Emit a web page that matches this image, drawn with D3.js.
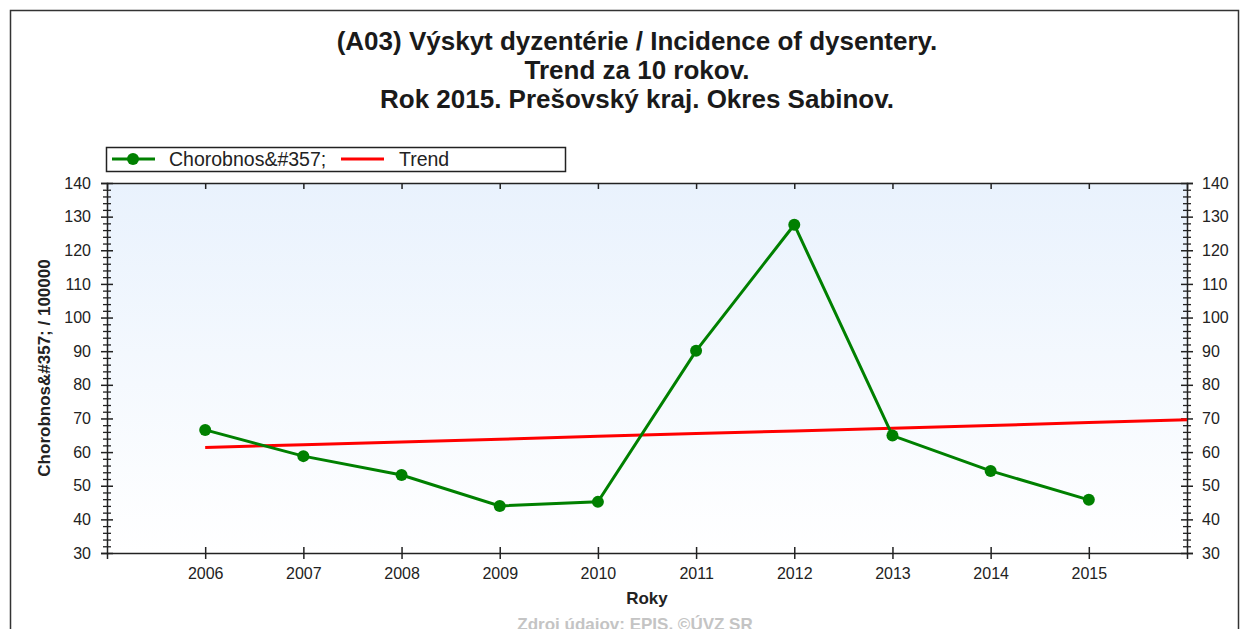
<!DOCTYPE html>
<html>
<head>
<meta charset="utf-8">
<script src="https://cdn.jsdelivr.net/npm/d3@7"></script>
<style>
  body { margin: 0; background: #fff; }
  text { font-family: "Liberation Sans", Arial, sans-serif; }
</style>
</head>
<body>
<script>
// chart values
var years = [2006, 2007, 2008, 2009, 2010, 2011, 2012, 2013, 2014, 2015];
var incidence = [66.6, 58.8, 53.2, 44.0, 45.2, 90.1, 127.6, 64.9, 54.4, 45.8];
var trendYears = [2006, 2007, 2008, 2009, 2010, 2011, 2012, 2013, 2014, 2015, 2016];
var trendValues = [61.4, 62.2, 63.0, 63.8, 64.7, 65.5, 66.3, 67.1, 67.9, 68.8, 69.6];
var yTicks = [30, 40, 50, 60, 70, 80, 90, 100, 110, 120, 130, 140];
var titleLines = [
    "(A03) Výskyt dyzentérie / Incidence of dysentery.",
    "Trend za 10 rokov.",
    "Rok 2015. Prešovský kraj. Okres Sabinov."
];
var seriesName = "Chorobnos&#357;";
var trendName = "Trend";
var yTitle = "Chorobnos&#357; / 100000";
var xTitle = "Roky";
var footer = "Zdroj údajov: EPIS, ©ÚVZ SR";

var width = 1249, height = 629;
var plot = { left: 107, top: 183, right: 1187, bottom: 553 };

var svg = d3.select("body").append("svg")
    .attr("width", width)
    .attr("height", height);

// outer frame
svg.append("rect")
    .attr("x", 10.5).attr("y", 10.5)
    .attr("width", 1228).attr("height", 640)
    .attr("fill", "none")
    .attr("stroke", "#333")
    .attr("stroke-width", 1.5);

// title
svg.append("g").selectAll("text")
    .data(titleLines)
    .enter().append("text")
    .attr("x", 637)
    .attr("y", function(d, i) { return 50 + i * 29; })
    .attr("text-anchor", "middle")
    .attr("font-size", "26px")
    .attr("font-weight", "bold")
    .attr("fill", "#1a1a1a")
    .text(function(d) { return d; });

var x = d3.scaleLinear().domain([2005, 2016]).range([plot.left, plot.right]);
var y = d3.scaleLinear().domain([30, 140]).range([plot.bottom, plot.top]);

// plot background gradient
var grad = svg.append("defs").append("linearGradient")
    .attr("id", "bg").attr("x1", 0).attr("y1", 0).attr("x2", 0).attr("y2", 1);
grad.append("stop").attr("offset", "0%").attr("stop-color", "#e9f2fd");
grad.append("stop").attr("offset", "100%").attr("stop-color", "#ffffff");

svg.append("rect")
    .attr("x", plot.left).attr("y", plot.top)
    .attr("width", plot.right - plot.left)
    .attr("height", plot.bottom - plot.top)
    .attr("fill", "url(#bg)");

// axes
function styleAxis(g) {
    g.select(".domain").attr("stroke", "#222").attr("stroke-width", 1.5);
    g.selectAll(".tick line").attr("stroke", "#222").attr("stroke-width", 1.5);
    g.selectAll(".tick text").attr("font-size", "16px").attr("fill", "#222")
        .attr("font-family", "Liberation Sans, Arial, sans-serif");
}

var minorTicks = d3.range(30, 141, 2).filter(function(v) { return v % 10 !== 0; });

// left axis
var leftMinor = svg.append("g")
    .attr("transform", "translate(" + plot.left + ",0)")
    .call(d3.axisLeft(y).tickValues(minorTicks).tickSize(4).tickFormat(""));
leftMinor.select(".domain").remove();
leftMinor.selectAll(".tick line").attr("x1", 4).attr("stroke", "#222").attr("stroke-width", 1.3);

var leftAxis = svg.append("g")
    .attr("transform", "translate(" + plot.left + ",0)")
    .call(d3.axisLeft(y).tickValues(yTicks).tickSizeOuter(0).tickSize(6).tickPadding(10));
styleAxis(leftAxis);
leftAxis.selectAll(".tick line").attr("x1", 6);

// right axis
var rightMinor = svg.append("g")
    .attr("transform", "translate(" + plot.right + ",0)")
    .call(d3.axisRight(y).tickValues(minorTicks).tickSize(4).tickFormat(""));
rightMinor.select(".domain").remove();
rightMinor.selectAll(".tick line").attr("x1", -4).attr("stroke", "#222").attr("stroke-width", 1.3);

var rightAxis = svg.append("g")
    .attr("transform", "translate(" + plot.right + ",0)")
    .call(d3.axisRight(y).tickValues(yTicks).tickSizeOuter(0).tickSize(6).tickPadding(9));
styleAxis(rightAxis);
rightAxis.selectAll(".tick line").attr("x1", -6);

// bottom axis
var bottomAxis = svg.append("g")
    .attr("transform", "translate(0," + plot.bottom + ")")
    .call(d3.axisBottom(x).tickValues(years).tickFormat(d3.format("d")).tickSizeOuter(0).tickSize(6).tickPadding(9));
styleAxis(bottomAxis);
bottomAxis.selectAll(".tick line").attr("y1", -6);

// top axis
var topAxis = svg.append("g")
    .attr("transform", "translate(0," + plot.top + ")")
    .call(d3.axisBottom(x).tickValues(years).tickFormat("").tickSizeOuter(0).tickSize(6));
styleAxis(topAxis);

// axis titles
svg.append("text")
    .attr("transform", "translate(50," + ((plot.top + plot.bottom) / 2) + ") rotate(-90)")
    .attr("text-anchor", "middle")
    .attr("font-size", "17px")
    .attr("font-weight", "bold")
    .attr("fill", "#222")
    .text(yTitle);

svg.append("text")
    .attr("x", (plot.left + plot.right) / 2)
    .attr("y", 604)
    .attr("text-anchor", "middle")
    .attr("font-size", "17px")
    .attr("font-weight", "bold")
    .attr("fill", "#222")
    .text(xTitle);

// footer
svg.append("text")
    .attr("x", 635)
    .attr("y", 630)
    .attr("text-anchor", "middle")
    .attr("font-size", "17px")
    .attr("font-weight", "bold")
    .attr("fill", "#c4c4c4")
    .text(footer);

// trend line
var trendLine = d3.line()
    .x(function(d, i) { return x(trendYears[i]); })
    .y(function(d) { return y(d); });

svg.append("path")
    .datum(trendValues)
    .attr("d", trendLine)
    .attr("fill", "none")
    .attr("stroke", "#ff0000")
    .attr("stroke-width", 3);

// incidence series
var seriesLine = d3.line()
    .x(function(d, i) { return x(years[i]); })
    .y(function(d) { return y(d); });

svg.append("path")
    .datum(incidence)
    .attr("d", seriesLine)
    .attr("fill", "none")
    .attr("stroke", "#008000")
    .attr("stroke-width", 3);

svg.selectAll(".pt")
    .data(incidence)
    .enter().append("circle")
    .attr("class", "pt")
    .attr("cx", function(d, i) { return x(years[i]); })
    .attr("cy", function(d) { return y(d); })
    .attr("r", 6)
    .attr("fill", "#008000");

// legend
var legend = svg.append("g");
legend.append("rect")
    .attr("x", 106.5).attr("y", 147.5)
    .attr("width", 459).attr("height", 24)
    .attr("fill", "#fff")
    .attr("stroke", "#222")
    .attr("stroke-width", 1.5);
legend.append("line")
    .attr("x1", 112).attr("x2", 155).attr("y1", 159).attr("y2", 159)
    .attr("stroke", "#008000").attr("stroke-width", 3);
legend.append("circle")
    .attr("cx", 133).attr("cy", 159).attr("r", 6).attr("fill", "#008000");
legend.append("text")
    .attr("x", 169).attr("y", 166)
    .attr("font-size", "19.5px").attr("fill", "#222")
    .text(seriesName);
legend.append("line")
    .attr("x1", 341).attr("x2", 384).attr("y1", 159).attr("y2", 159)
    .attr("stroke", "#ff0000").attr("stroke-width", 3);
legend.append("text")
    .attr("x", 399).attr("y", 166)
    .attr("font-size", "19.5px").attr("fill", "#222")
    .text(trendName);
</script>
</body>
</html>
